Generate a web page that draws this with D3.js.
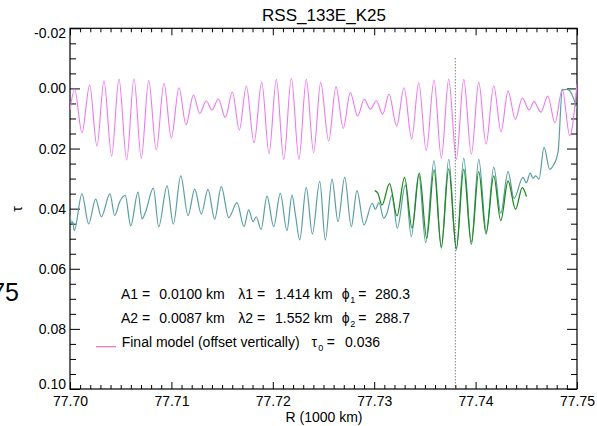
<!DOCTYPE html>
<html><head><meta charset="utf-8">
<script src="https://cdn.jsdelivr.net/npm/d3@7"></script>
<style>
html,body{margin:0;padding:0;background:#fff;}
svg{display:block;}
text{font-family:"Liberation Sans",Arial,Helvetica,sans-serif;fill:#000;}
</style></head><body>
<svg id="c" width="597" height="426"></svg>
<script>
const title = "RSS_133E_K25";
const xTicks = [77.70, 77.71, 77.72, 77.73, 77.74, 77.75];
const yTicks = [-0.02, 0.00, 0.02, 0.04, 0.06, 0.08, 0.10];
const xTitle = "R (1000 km)";
const yTitle = "τ";
const markerR = 77.738;

const modelR = [77.70000,77.70046,77.70118,77.70194,77.70266,77.70335,77.70411,77.70483,77.70559,77.70631,
77.70703,77.70776,77.70851,77.70927,77.70999,77.71075,77.71144,77.71218,77.71279,77.71344,
77.71400,77.71463,77.71532,77.71601,77.71670,77.71739,77.71815,77.71891,77.71963,77.72035,
77.72108,77.72183,77.72258,77.72330,77.72403,77.72472,77.72551,77.72623,77.72695,77.72764,
77.72837,77.72902,77.72962,77.73021,77.73084,77.73146,77.73222,77.73294,77.73370,77.73439,
77.73514,77.73590,77.73662,77.73735,77.73810,77.73883,77.73958,77.74031,77.74103,77.74179,
77.74251,77.74320,77.74392,77.74461,77.74527,77.74576,77.74645,77.74711,77.74783,77.74855,
77.74928,77.75000];
const modelTau = [0.0072,0.0003,0.0147,-0.0011,0.0192,-0.0025,0.0225,-0.0031,0.0238,-0.0032,
0.0232,-0.0026,0.0205,-0.0017,0.0165,-0.0002,0.0121,0.0022,0.0083,0.0042,
0.0072,0.0035,0.0097,0.0012,0.0138,-0.0008,0.0181,-0.0021,0.0216,-0.0030,
0.0236,-0.0034,0.0236,-0.0030,0.0214,-0.0020,0.0175,-0.0006,0.0133,0.0014,
0.0092,0.0036,0.0069,0.0041,0.0086,0.0019,0.0125,-0.0002,0.0168,-0.0019,
0.0207,-0.0028,0.0232,-0.0031,0.0236,-0.0030,0.0219,-0.0021,0.0185,-0.0009,
0.0144,0.0009,0.0103,0.0032,0.0072,0.0044,0.0079,0.0025,0.0114,0.0003,
0.0157,-0.0015];

const dataR = [77.70000,77.70020,77.70027,77.70042,77.70118,77.70184,77.70253,77.70309,77.70394,77.70441,
77.70490,77.70545,77.70599,77.70671,77.70710,77.70743,77.70822,77.70875,77.70957,77.71019,
77.71092,77.71164,77.71230,77.71295,77.71361,77.71427,77.71492,77.71565,77.71647,77.71716,
77.71762,77.71805,77.71837,77.71884,77.71943,77.72009,77.72074,77.72140,77.72189,77.72226,
77.72265,77.72330,77.72390,77.72463,77.72518,77.72584,77.72643,77.72709,77.72774,77.72830,
77.72899,77.72981,77.73011,77.73047,77.73094,77.73126,77.73176,77.73228,77.73307,77.73366,
77.73439,77.73508,77.73590,77.73662,77.73735,77.73810,77.73883,77.73958,77.74031,77.74106,
77.74179,77.74248,77.74320,77.74379,77.74467,77.74500,77.74539,77.74566,77.74593,77.74625,
77.74675,77.74731,77.74763,77.74813,77.74855,77.74895,77.74928,77.74977,77.75000];
const dataTau = [0.0423,0.0451,0.0443,0.0473,0.0351,0.0451,0.0368,0.0427,0.0351,0.0423,
0.0377,0.0356,0.0457,0.0345,0.0434,0.0413,0.0332,0.0460,0.0324,0.0451,
0.0291,0.0423,0.0335,0.0418,0.0336,0.0435,0.0327,0.0430,0.0380,0.0460,
0.0404,0.0443,0.0427,0.0469,0.0358,0.0460,0.0349,0.0473,0.0355,0.0427,
0.0504,0.0329,0.0484,0.0309,0.0504,0.0302,0.0443,0.0296,0.0460,0.0340,
0.0454,0.0382,0.0402,0.0380,0.0432,0.0415,0.0355,0.0465,0.0321,0.0493,
0.0285,0.0513,0.0240,0.0532,0.0236,0.0538,0.0232,0.0510,0.0236,0.0477,
0.0262,0.0415,0.0277,0.0366,0.0296,0.0314,0.0282,0.0299,0.0291,0.0302,
0.0196,0.0269,0.0258,0.0211,0.0005,0.0003,0.0008,0.0044,0.0069];

const fitR = [77.73005,77.73035,77.73077,77.73151,77.73225,77.73299,77.73373,77.73445,77.73518,77.73590,
77.73662,77.73735,77.73810,77.73883,77.73958,77.74031,77.74103,77.74179,77.74248,77.74320,
77.74394,77.74461,77.74502];
const fitTau = [0.0340,0.0348,0.0388,0.0317,0.0424,0.0296,0.0465,0.0282,0.0499,0.0271,
0.0527,0.0268,0.0532,0.0269,0.0518,0.0277,0.0484,0.0291,0.0440,0.0308,
0.0402,0.0330,0.0360];

const legendRows = [
  ["A1 =", "0.0100 km", "λ1 =", "1.414 km", "ϕ", "1", "=", "280.3"],
  ["A2 =", "0.0087 km", "λ2 =", "1.552 km", "ϕ", "2", "=", "288.7"]
];
const legendModel = ["Final model (offset vertically)", "τ", "0", "=", "0.036"];

const svg = d3.select("#c");
const L = 70, R = 577, T = 28.3, B = 389;
const x = d3.scaleLinear().domain([77.70, 77.75]).range([L, R]);
const y = d3.scaleLinear().domain([-0.02, 0.10]).range([T, B]);

svg.append("defs").append("clipPath").attr("id","clip")
  .append("rect").attr("x",L).attr("y",T).attr("width",R-L).attr("height",B-T);

const xMinor = d3.range(0, 51).map(i => 77.70 + i*0.001).filter((v,i)=> i%10 !== 0);
const yMinor = d3.range(0, 25).map(i => -0.02 + i*0.005).filter((v,i)=> i%4 !== 0);

function styleAxis(g){ g.select(".domain").remove(); g.selectAll("line").attr("stroke","#000").attr("stroke-width",1); }

// bottom
svg.append("g").attr("transform",`translate(0,${B})`)
  .call(d3.axisBottom(x).tickValues(xTicks).tickSizeInner(-7).tickSizeOuter(0).tickPadding(7.5).tickFormat(d3.format(".2f")))
  .call(styleAxis)
  .call(g=>g.selectAll("text").attr("font-size",14).attr("font-family","Liberation Sans, Arial, sans-serif"));
svg.append("g").attr("transform",`translate(0,${B})`)
  .call(d3.axisBottom(x).tickValues(xMinor).tickSizeInner(-4).tickSizeOuter(0).tickFormat(""))
  .call(styleAxis);
// top
svg.append("g").attr("transform",`translate(0,${T})`)
  .call(d3.axisTop(x).tickValues(xTicks).tickSizeInner(-7).tickSizeOuter(0).tickFormat(""))
  .call(styleAxis);
svg.append("g").attr("transform",`translate(0,${T})`)
  .call(d3.axisTop(x).tickValues(xMinor).tickSizeInner(-4).tickSizeOuter(0).tickFormat(""))
  .call(styleAxis);
// left
const yFmt = d => (d < 0 ? "-" : "") + d3.format(".2f")(Math.abs(d));
svg.append("g").attr("transform",`translate(${L},0)`)
  .call(d3.axisLeft(y).tickValues(yTicks).tickSizeInner(-10).tickSizeOuter(0).tickPadding(4).tickFormat(yFmt))
  .call(styleAxis)
  .call(g=>g.selectAll("text").attr("font-size",14).attr("font-family","Liberation Sans, Arial, sans-serif")
     .attr("transform", d => d === -0.02 ? "translate(0,4.7)" : (d === 0.10 ? "translate(0,-4.5)" : null)));
svg.append("g").attr("transform",`translate(${L},0)`)
  .call(d3.axisLeft(y).tickValues(yMinor).tickSizeInner(-6).tickSizeOuter(0).tickFormat(""))
  .call(styleAxis);
// right
svg.append("g").attr("transform",`translate(${R},0)`)
  .call(d3.axisRight(y).tickValues(yTicks).tickSizeInner(-10).tickSizeOuter(0).tickFormat(""))
  .call(styleAxis);
svg.append("g").attr("transform",`translate(${R},0)`)
  .call(d3.axisRight(y).tickValues(yMinor).tickSizeInner(-6).tickSizeOuter(0).tickFormat(""))
  .call(styleAxis);

// frame
svg.append("rect").attr("x",L).attr("y",T).attr("width",R-L).attr("height",B-T)
  .attr("fill","none").attr("stroke","#000").attr("stroke-width",1.2);

const plot = svg.append("g").attr("clip-path","url(#clip)");
const line = d3.line().x(d=>x(d[0])).y(d=>y(d[1])).curve(d3.curveMonotoneX);
const zip = (a,b) => a.map((v,i)=>[v,b[i]]);

plot.append("path").attr("d", line(zip(modelR, modelTau)))
  .attr("fill","none").attr("stroke","#ee78ee").attr("stroke-width",1.1);
plot.append("path").attr("d", line(zip(dataR, dataTau)))
  .attr("fill","none").attr("stroke","#5a9ea2").attr("stroke-width",1.2);
plot.append("path").attr("d", line(zip(fitR, fitTau)))
  .attr("fill","none").attr("stroke","#1f8a1f").attr("stroke-width",1.3);
plot.append("line").attr("x1",x(markerR)).attr("x2",x(markerR)).attr("y1",y(-0.010)).attr("y2",y(0.10))
  .attr("stroke","#444").attr("stroke-width",1).attr("stroke-dasharray","1,2");

// title
svg.append("text").attr("x",324).attr("y",21).attr("text-anchor","middle").attr("font-size",17).text(title);
// axis titles
svg.append("text").attr("x",324).attr("y",422).attr("text-anchor","middle").attr("font-size",14).text(xTitle);
svg.append("text").attr("transform","translate(22,209) rotate(-90)").attr("text-anchor","middle").attr("font-size",14).text(yTitle);
// stray label from neighbouring panel
svg.append("text").attr("x",19).attr("y",301).attr("text-anchor","end").attr("font-size",25).text("75");

// legend
const colX = [121, 159.3, 238.3, 275, 341.7, 350.2, 358.3, 375];
const rowY = [299.3, 323.3];
legendRows.forEach((row, r) => {
  row.forEach((s, i) => {
    svg.append("text").attr("x", colX[i]).attr("font-size", i === 5 ? 9 : 14)
      .attr("y", rowY[r] + (i === 5 ? 3.5 : 0)).text(s);
  });
});
const ly = 347.3;
svg.append("line").attr("x1",96).attr("x2",116).attr("y1",346.7).attr("y2",346.7)
  .attr("stroke","#f07ab8").attr("stroke-width",1.3);
svg.append("text").attr("x",121.7).attr("y",ly).attr("font-size",14).text(legendModel[0]);
svg.append("text").attr("x",311.5).attr("y",ly).attr("font-size",14).text(legendModel[1]);
svg.append("text").attr("x",318.3).attr("y",ly+3.5).attr("font-size",9).text(legendModel[2]);
svg.append("text").attr("x",326.7).attr("y",ly).attr("font-size",14).text(legendModel[3]);
svg.append("text").attr("x",345).attr("y",ly).attr("font-size",14).text(legendModel[4]);
</script>
</body></html>
